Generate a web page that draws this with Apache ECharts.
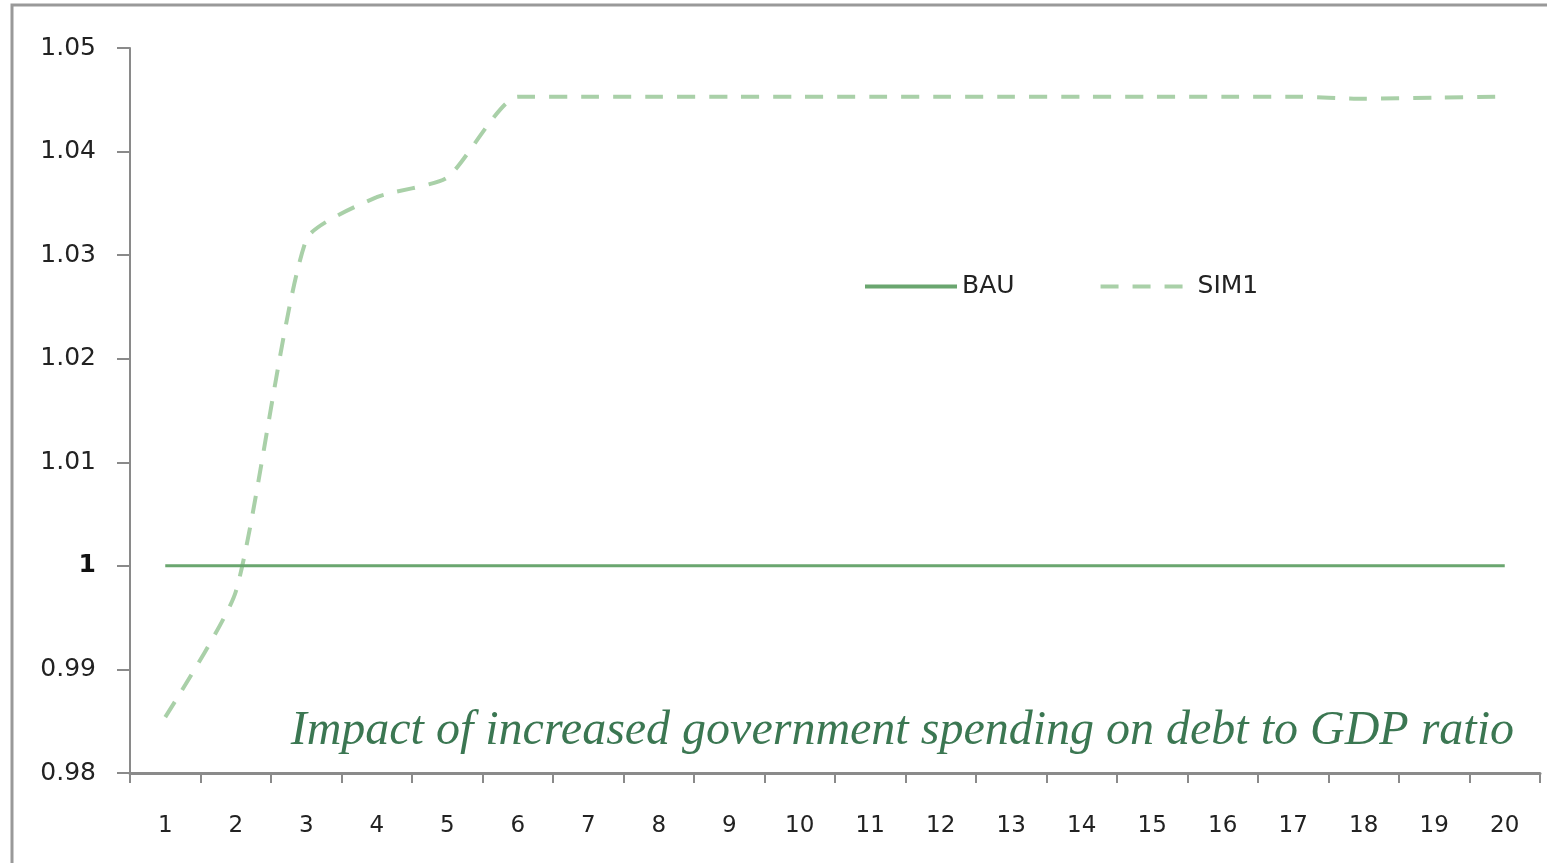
<!DOCTYPE html>
<html>
<head>
<meta charset="utf-8">
<script src="https://cdn.jsdelivr.net/npm/echarts@6/dist/echarts.min.js"></script>
<style>
  html, body { margin: 0; padding: 0; background: #fff; }
  #chart { width: 1547px; height: 863px; }
</style>
</head>
<body>
<div id="chart"></div>
<script>
// periods on the x axis
var periods = ['1','2','3','4','5','6','7','8','9','10','11','12','13','14','15','16','17','18','19','20'];
// baseline: business as usual
var bau = [1,1,1,1,1,1,1,1,1,1,1,1,1,1,1,1,1,1,1,1];
// simulation 1: increased government spending
var sim1 = [0.9854, 0.9975, 1.0315, 1.0356, 1.0375, 1.0453, 1.0453, 1.0453, 1.0453, 1.0453,
            1.0453, 1.0453, 1.0453, 1.0453, 1.0453, 1.0453, 1.0453, 1.0451, 1.0452, 1.0453];

var chart = echarts.init(document.getElementById('chart'));

var option = {
  animation: false,
  color: ['#6aa66f', '#a9d0a8'],
  grid: {
    left: 130,
    right: 7,
    top: 48,
    bottom: 90,
    containLabel: false
  },
  legend: {
    left: 858,
    top: 269,
    itemWidth: 92,
    itemHeight: 14,
    itemGap: 84,
    data: ['BAU', 'SIM1'],
    itemStyle: { opacity: 0 },
    lineStyle: { width: 4 },
    textStyle: {
      fontFamily: 'DejaVu Sans',
      fontSize: 25,
      color: '#222'
    }
  },
  xAxis: {
    type: 'category',
    data: periods,
    boundaryGap: true,
    axisLine: { lineStyle: { color: '#8a8a8a', width: 3 } },
    axisTick: { show: true, length: 10, lineStyle: { color: '#8a8a8a', width: 2 } },
    axisLabel: {
      margin: 42,
      fontFamily: 'DejaVu Sans',
      fontSize: 23,
      color: '#222'
    },
    splitLine: { show: false }
  },
  yAxis: {
    type: 'value',
    min: 0.98,
    max: 1.05,
    interval: 0.01,
    axisLine: { show: true, lineStyle: { color: '#8a8a8a', width: 2 } },
    axisTick: { show: true, inside: false, length: 13, lineStyle: { color: '#8a8a8a', width: 2 } },
    splitLine: { show: false },
    axisLabel: {
      margin: 34,
      fontFamily: 'DejaVu Sans',
      fontSize: 25,
      color: '#222',
      formatter: function (v) {
        var s = String(parseFloat(v.toFixed(2)));
        return s === '1' ? '{b|1}' : s;
      },
      rich: {
        b: { fontFamily: 'DejaVu Sans', fontSize: 25, fontWeight: 'bold', color: '#111' }
      }
    }
  },
  graphic: [
    {
      type: 'rect',
      shape: { x: 12, y: 5, width: 1600, height: 900 },
      style: { fill: 'none', stroke: '#999', lineWidth: 3 },
      silent: true
    },
    {
      type: 'text',
      right: 33,
      top: 707,
      style: {
        text: 'Impact of increased government spending on debt to GDP ratio',
        font: 'italic 48px "Liberation Serif"',
        fill: '#3b7752'
      },
      silent: true
    }
  ],
  series: [
    {
      name: 'BAU',
      type: 'line',
      data: bau,
      symbol: 'none',
      lineStyle: { width: 3, color: '#6aa66f' },
      z: 3
    },
    {
      name: 'SIM1',
      type: 'line',
      data: sim1,
      symbol: 'none',
      smooth: 0.2,
      lineStyle: { width: 4, color: '#a9d0a8', type: [18, 14] },
      z: 2
    }
  ]
};

chart.setOption(option);
</script>
</body>
</html>
